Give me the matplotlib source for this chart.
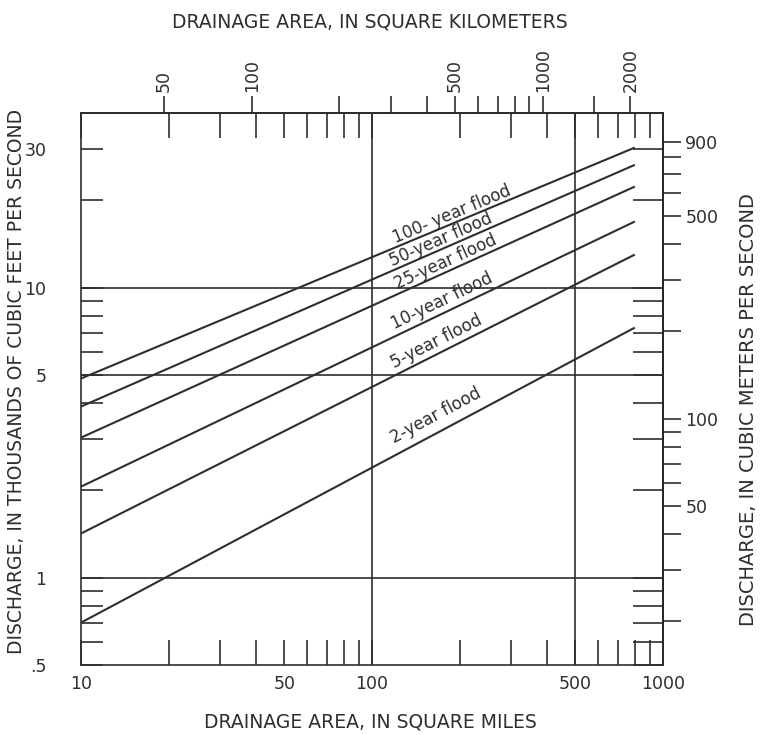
import numpy as np
import matplotlib
matplotlib.use('Agg')
import matplotlib.pyplot as plt
from matplotlib import transforms
from matplotlib.ticker import NullFormatter, NullLocator

# flood-frequency curves: discharge (thousands of cfs) at the two ends
area_ends = [10, 800]            # drainage area, sq mi
flood_names = ['100- year flood', '50-year flood', '25-year flood',
               '10-year flood', '5-year flood', '2-year flood']
q_start = [4.86, 3.89, 3.04, 2.06, 1.42, 0.70]
q_end = [30.4, 26.5, 22.3, 16.9, 13.0, 7.28]
label_area = [122, 119, 124, 122, 122, 124]   # where each curve name starts
label_gap = [3, 3, 3.5, 5, 5, 8]              # points above the curve

# bottom axis (square miles)
mi_ticks = [10, 50, 100, 500, 1000]
mi_labels = ['10', '50', '100', '500', '1000']
mi_minor = [20, 30, 40, 60, 70, 80, 90, 200, 300, 400, 600, 700, 800, 900]
grid_x = [100, 500]

# top axis (square kilometers)
km_ticks = [50, 100, 200, 300, 400, 500, 600, 700, 800, 900, 1000, 1500, 2000]
km_labels = ['50', '100', '', '', '', '500', '', '', '', '', '1000', '', '2000']

# left axis (thousands of cubic feet per second)
q_ticks = [0.5, 1, 5, 10, 30]
q_labels = ['.5', '1', '5', '10', '30']
q_minor = [0.6, 0.7, 0.8, 0.9, 2, 3, 4, 6, 7, 8, 9, 20]
grid_y = [1, 5, 10]

# right axis (cubic meters per second)
cms_ticks = [20, 30, 40, 50, 60, 70, 80, 90, 100, 200, 300, 400, 500,
             600, 700, 800, 900]
cms_labels = ['', '', '', '50', '', '', '', '', '100', '', '', '', '500',
              '', '', '', '900']

SQMI_TO_KM2 = 2.58999
KCFS_TO_CMS = 28.3168

ink = '#2e2e2e'
plt.rcParams['font.family'] = 'DejaVu Sans'
plt.rcParams['text.color'] = ink
plt.rcParams['xtick.color'] = ink
plt.rcParams['ytick.color'] = ink

fig = plt.figure(figsize=(7.6, 7.35), dpi=100)
ax = fig.add_axes([81 / 760, 1 - 665 / 735, 582 / 760, 552 / 735])
ax.set_xscale('log')
ax.set_yscale('log')
ax.set_xlim(10, 1000)
ax.set_ylim(0.5, 40)
for s in ax.spines.values():
    s.set_linewidth(1.2)
    s.set_color(ink)

# sq mi ticks point inward on top and bottom
ax.set_xticks(mi_ticks, mi_labels)
ax.set_xticks(mi_minor, minor=True)
ax.xaxis.set_minor_formatter(NullFormatter())
ax.tick_params(axis='x', which='both', direction='in', length=18, width=1.2,
               top=True, bottom=True, labeltop=False, labelsize=12.5, pad=7)

ax.set_yticks(q_ticks, q_labels)
ax.set_yticks(q_minor, minor=True)
ax.yaxis.set_minor_formatter(NullFormatter())
ax.tick_params(axis='y', which='both', direction='in', length=16, width=1.2,
               left=True, right=False, labelsize=12.5, pad=25)

# longer inward ticks along the right edge
right_in = ax.secondary_yaxis('right', functions=(lambda y: y, lambda y: y))
right_in.set_yticks(sorted(q_ticks + q_minor))
right_in.yaxis.set_major_formatter(NullFormatter())
right_in.yaxis.set_minor_locator(NullLocator())
right_in.tick_params(direction='in', length=21.5, width=1.2, labelright=False)
right_in.spines['right'].set_linewidth(1.2)

# metric scales
top = ax.secondary_xaxis('top', functions=(lambda x: x * SQMI_TO_KM2,
                                            lambda x: x / SQMI_TO_KM2))
top.set_xticks(km_ticks, km_labels)
top.xaxis.set_minor_locator(NullLocator())
top.tick_params(direction='out', length=12, width=1.2, labelsize=12.5,
                labelrotation=90, pad=3)
top.spines['top'].set_linewidth(1.2)

right = ax.secondary_yaxis('right', functions=(lambda y: y * KCFS_TO_CMS,
                                               lambda y: y / KCFS_TO_CMS))
right.set_yticks(cms_ticks, cms_labels)
right.yaxis.set_minor_locator(NullLocator())
right.tick_params(direction='out', length=13, width=1.2, labelsize=12.5, pad=3)
right.spines['right'].set_linewidth(1.2)

for gx in grid_x:
    ax.axvline(gx, color=ink, lw=1.2)
for gy in grid_y:
    ax.axhline(gy, color=ink, lw=1.2)

for name, q0, q1, xa, gap in zip(flood_names, q_start, q_end, label_area,
                                 label_gap):
    ax.plot(area_ends, [q0, q1], color=ink, lw=1.5, solid_capstyle='butt')
    slope = np.log10(q1 / q0) / np.log10(area_ends[1] / area_ends[0])
    ya = q0 * (xa / area_ends[0]) ** slope
    p0 = ax.transData.transform((area_ends[0], q0))
    p1 = ax.transData.transform((area_ends[1], q1))
    ang = np.arctan2(p1[1] - p0[1], p1[0] - p0[0])
    tr = transforms.offset_copy(ax.transData, fig=fig, x=-np.sin(ang) * gap,
                                y=np.cos(ang) * gap, units='points')
    ax.text(xa, ya, name, transform=tr, rotation=np.degrees(ang),
            rotation_mode='anchor', ha='left', va='baseline', fontsize=12)

fig.text(370 / 760, 1 - 22 / 735, 'DRAINAGE AREA, IN SQUARE KILOMETERS',
         ha='center', va='center', fontsize=13.5)
fig.text(370 / 760, 1 - 722 / 735, 'DRAINAGE AREA, IN SQUARE MILES',
         ha='center', va='center', fontsize=13.5)
fig.text(17 / 760, 1 - 381 / 735,
         'DISCHARGE, IN THOUSANDS OF CUBIC FEET PER SECOND',
         ha='center', va='center', rotation=90, fontsize=13.5)
fig.text(748 / 760, 1 - 410 / 735, 'DISCHARGE, IN CUBIC METERS PER SECOND',
         ha='center', va='center', rotation=90, fontsize=14)

fig.savefig('out.png', dpi=100, facecolor='white')
